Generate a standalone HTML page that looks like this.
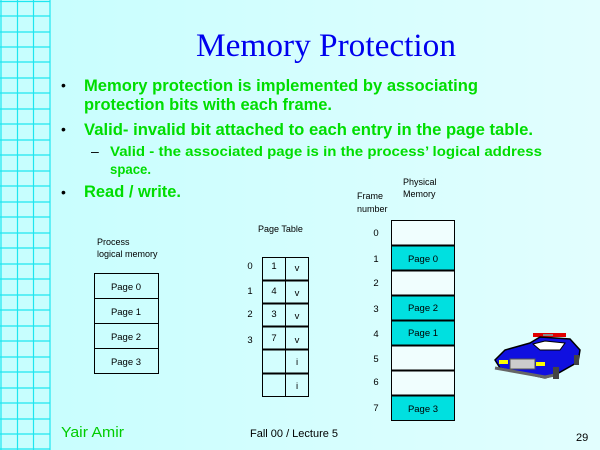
<!DOCTYPE html>
<html><head><style>
html,body{margin:0;padding:0;width:600px;height:450px;overflow:hidden}
</style></head><body>
<svg width="600" height="450" xmlns="http://www.w3.org/2000/svg" font-family="Liberation Sans, sans-serif">
<defs>
<linearGradient id="bg" x1="0" y1="0" x2="1" y2="0">
<stop offset="0" stop-color="#c6fefe"/><stop offset="1" stop-color="#e2fefe"/>
</linearGradient>
</defs>
<rect width="600" height="450" fill="url(#bg)"/>
<g stroke="#1ee6f0" stroke-width="1.2" fill="none">
<line x1="1" y1="0" x2="1" y2="450"/><line x1="17.5" y1="0" x2="17.5" y2="450"/>
<line x1="33.5" y1="0" x2="33.5" y2="450"/><line x1="50" y1="0" x2="50" y2="450"/>
<path d="M0 1.5H50M0 16H50M0 32H50M0 47H50M0 62H50M0 78H50M0 93H50M0 109H50M0 124H50M0 140H50M0 155H50M0 171H50M0 186H50M0 202H50M0 217H50M0 233H50M0 248H50M0 264H50M0 279H50M0 295H50M0 310H50M0 326H50M0 341H50M0 357H50M0 372H50M0 388H50M0 403H50M0 419H50M0 434H50M0 449H50"/>
</g>
<text x="196" y="56" font-family="Liberation Serif, serif" font-size="33" fill="#0000ee" textLength="260" lengthAdjust="spacingAndGlyphs">Memory Protection</text>
<g fill="#00dd00" font-weight="bold" font-size="16.5">
<text x="84" y="91" textLength="394" lengthAdjust="spacingAndGlyphs">Memory protection is implemented by associating</text>
<text x="84" y="110" textLength="248" lengthAdjust="spacingAndGlyphs">protection bits with each frame.</text>
<text x="84" y="135" textLength="449" lengthAdjust="spacingAndGlyphs">Valid- invalid bit attached to each entry in the page table.</text>
<text x="110" y="156" font-size="13.5" textLength="432" lengthAdjust="spacingAndGlyphs">Valid - the associated page is in the process’ logical address</text>
<text x="110" y="174" font-size="13.5" textLength="41" lengthAdjust="spacingAndGlyphs">space.</text>
<text x="84" y="197" textLength="97" lengthAdjust="spacingAndGlyphs">Read / write.</text>
</g>
<g fill="#000" font-size="14">
<text x="61" y="90">•</text><text x="61" y="134">•</text><text x="61" y="197">•</text>
<text x="91" y="156">–</text>
</g>
<g font-size="9" fill="#000">
<text x="97" y="245">Process</text><text x="97" y="257">logical memory</text>
<text x="258" y="232">Page Table</text>
<text x="357" y="199">Frame</text><text x="357" y="212">number</text>
<text x="403" y="185">Physical</text><text x="403" y="197">Memory</text>
</g>
<g stroke="#000" stroke-width="1" fill="none">
<rect x="94.5" y="273.5" width="64" height="100"/>
<path d="M94.5 298.5h64M94.5 323.5h64M94.5 348.5h64"/>
<rect x="262.5" y="257.5" width="46" height="139"/>
<path d="M285.5 257.5v139"/>
<path d="M262.5 280.5h46M262.5 303.5h46M262.5 326.5h46M262.5 349.5h46M262.5 373.5h46" stroke-width="2"/>
</g>
<g>
<rect x="391.5" y="220.5" width="63" height="200" fill="#f0fefe" stroke="#000"/>
<rect x="391.5" y="245.5" width="63" height="25" fill="#00e0e0"/>
<rect x="391.5" y="295.5" width="63" height="50" fill="#00e0e0"/>
<rect x="391.5" y="395.5" width="63" height="25" fill="#00e0e0"/>
<rect x="391.5" y="220.5" width="63" height="200" fill="none" stroke="#000"/>
<path d="M391.5 245.5h63M391.5 270.5h63M391.5 295.5h63M391.5 320.5h63M391.5 345.5h63M391.5 370.5h63M391.5 395.5h63" stroke="#000" stroke-width="2"/>
</g>
<g font-size="9.5" fill="#000" text-anchor="middle">
<text x="126" y="290">Page 0</text><text x="126" y="315">Page 1</text><text x="126" y="340">Page 2</text><text x="126" y="365">Page 3</text>
<text x="423" y="262">Page 0</text><text x="423" y="311">Page 2</text><text x="423" y="336">Page 1</text><text x="423" y="412">Page 3</text>
<text x="274" y="269">1</text><text x="274" y="294">4</text><text x="274" y="317">3</text><text x="274" y="341">7</text>
<text x="297" y="271">v</text><text x="297" y="296">v</text><text x="297" y="319">v</text><text x="297" y="343">v</text>
<text x="297" y="365">i</text><text x="297" y="389">i</text>
<text x="250" y="269">0</text><text x="250" y="294">1</text><text x="250" y="317">2</text><text x="250" y="343">3</text>
<text x="376" y="236">0</text><text x="376" y="262">1</text><text x="376" y="286">2</text><text x="376" y="312">3</text>
<text x="376" y="337">4</text><text x="376" y="362">5</text><text x="376" y="385">6</text><text x="376" y="411">7</text>
</g>
<!-- police car -->
<g>
<rect x="533" y="333" width="33" height="4" fill="#e00000"/>
<rect x="543" y="334" width="10" height="2" fill="#888"/>
<path d="M530 343 L540 337 L570 339 L580 350 L578 362 L555 375 L545 378 L500 368 L495 360 L505 350 Z" fill="#1010e0" stroke="#000" stroke-width="1.5"/>
<path d="M533 344 L545 341 L565 343 L560 350 L540 350 Z" fill="#fff" stroke="#000"/>
<rect x="510" y="359" width="25" height="10" fill="#ccc" stroke="#555"/>
<rect x="499" y="360" width="9" height="4" fill="#ff0"/>
<rect x="536" y="362" width="9" height="4" fill="#ff0"/>
<path d="M495 368 L545 377 L555 375" stroke="#666" stroke-width="3" fill="none"/>
<rect x="553" y="367" width="6" height="12" fill="#444"/>
<rect x="574" y="355" width="5" height="10" fill="#444"/>
</g>
<text x="61" y="437" font-size="15" fill="#00cc00" textLength="63" lengthAdjust="spacingAndGlyphs">Yair Amir</text>
<text x="250" y="437" font-size="11" fill="#000">Fall 00 / Lecture 5</text>
<text x="576" y="441" font-size="11" fill="#000">29</text>
</svg>
</body></html>
